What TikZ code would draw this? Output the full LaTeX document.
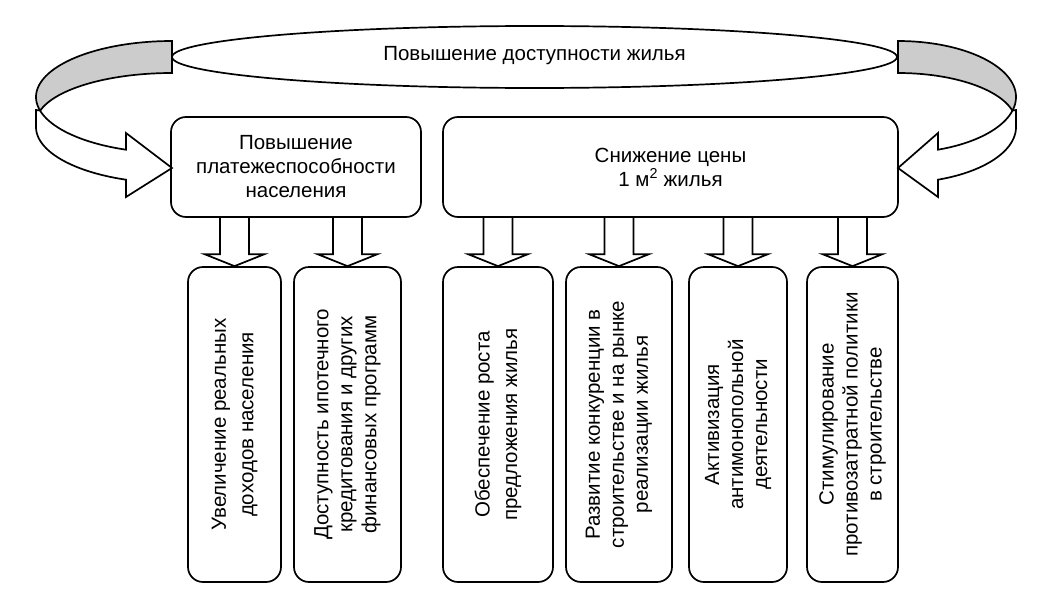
\documentclass[tikz,border=0pt]{standalone}
\usepackage{fontspec}
\setmainfont{Liberation Sans}
\usetikzlibrary{shapes.geometric,calc}
\definecolor{bandgray}{RGB}{204,204,204}
\newcommand\blockarrow[2]{% #1 source box, #2 target box
  \draw[conn] ($(#2.north |- #1.south)+(-14.5,0)$) -- ($(#2.north)+(-14.5,-12)$)
    -- ($(#2.north)+(-30,-12)$) -- (#2.north) -- ($(#2.north)+(30,-12)$)
    -- ($(#2.north)+(14.5,-12)$) -- ($(#2.north |- #1.south)+(14.5,0)$);}
\begin{document}
\begin{tikzpicture}[x=1pt,y=-1pt,
  lw/.style={line width=1.7pt},
  txt/.style={font=\fontsize{20.5}{24}\selectfont, align=center, inner sep=0pt},
  topbox/.style={draw, lw, rounded corners=15pt, minimum height=100pt, inner sep=0pt, txt},
  subbox/.style={draw, lw, rounded corners=15pt, minimum height=315pt, inner sep=0pt},
  vtext/.style={rotate=90, txt},
  conn/.style={draw, lw, line join=miter},
  band/.style={fill=bandgray, draw, lw},
  front/.style={fill=white, draw, lw},
]
\useasboundingbox (0,0) rectangle (1041,605);

% top ellipse
\node[draw, lw, ellipse, minimum width=725pt, minimum height=62pt, inner sep=0pt] (goal) at (534.5,57) {};
\node[txt, anchor=base] (goaltext) at (534.5,60) {Повышение доступности жилья};

% left curved arrow
\path[band] plot[domain=-90:-194, samples=50] ({172+136*cos(\x)},{97+56*sin(\x)})
  -- plot[domain=-166:-90, samples=50] ({172+136*cos(\x)},{123+50*sin(\x)}) -- cycle;
\path[front] plot[domain=166:109.8, samples=50] ({172+136*cos(\x)},{97+56*sin(\x)})
  -- (126,133) -- (172,168) -- (126,197)
  -- plot[domain=109.8:180, samples=50] ({172+136*cos(\x)},{127+56*sin(\x)})
  -- (36,110) -- cycle;

% right curved arrow
\path[band] plot[domain=-90:14, samples=50] ({898+118*cos(\x)},{97+56*sin(\x)})
  -- plot[domain=-14:-90, samples=50] ({898+118*cos(\x)},{123+50*sin(\x)}) -- cycle;
\path[front] plot[domain=14:70.2, samples=50] ({898+118*cos(\x)},{97+56*sin(\x)})
  -- (938,133) -- (898,168) -- (938,197)
  -- plot[domain=70.2:0, samples=50] ({898+118*cos(\x)},{127+56*sin(\x)})
  -- (1016,110) -- cycle;

% middle boxes
\node[topbox, minimum width=250pt] (pay) at (296,167) {Повышение\\платежеспособности\\населения};
\node[topbox, minimum width=455pt] (price) at (670.5,167) {Снижение цены\\1 м\textsuperscript{2} жилья};

% bottom boxes
\node[subbox, minimum width=93pt]  (a) at (234.5,424.5) {};
\node[subbox, minimum width=107pt] (b) at (347.5,424.5) {};
\node[subbox, minimum width=110pt] (c) at (498,424.5) {};
\node[subbox, minimum width=106pt] (d) at (619,424.5) {};
\node[subbox, minimum width=98pt]  (e) at (738,424.5) {};
\node[subbox, minimum width=91pt]  (f) at (852.5,424.5) {};

\node[vtext] (at) at (a) {Увеличение реальных\\[3.5pt]доходов населения};
\node[vtext] (bt) at (b) {Доступность ипотечного\\кредитования и других\\финансовых программ};
\node[vtext] (ct) at (c) {Обеспечение роста\\[3.5pt]предложения жилья};
\node[vtext] (dt) at (d) {Развитие конкуренции в\\строительстве и на рынке\\реализации жилья};
\node[vtext] (et) at (e) {Активизация\\антимонопольной\\деятельности};
\node[vtext] (ft) at (f) {Стимулирование\\противозатратной политики\\в строительстве};

% block arrows
\blockarrow{pay}{a}
\blockarrow{pay}{b}
\blockarrow{price}{c}
\blockarrow{price}{d}
\blockarrow{price}{e}
\blockarrow{price}{f}
\end{tikzpicture}
\end{document}
